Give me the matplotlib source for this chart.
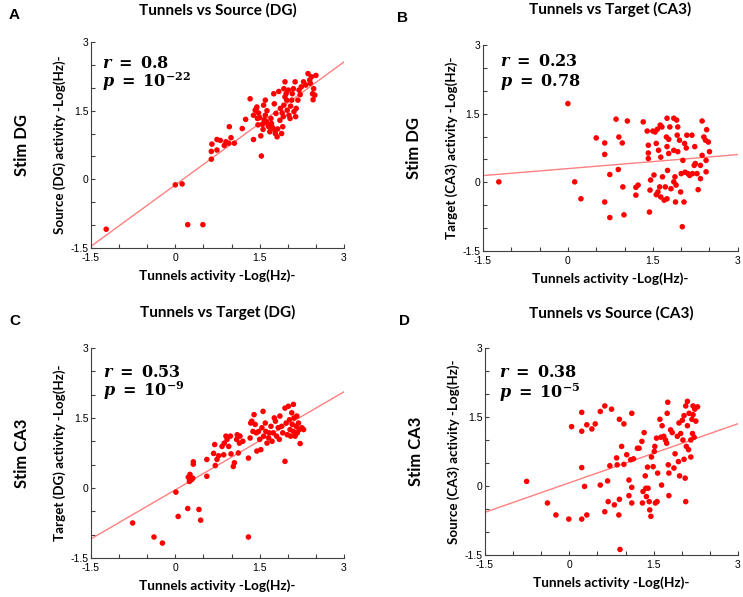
import numpy as np
import matplotlib
matplotlib.use("Agg")
import matplotlib.pyplot as plt
from matplotlib.ticker import MultipleLocator

plt.rcParams['font.family'] = ['Lato', 'DejaVu Sans']
plt.rcParams['mathtext.fontset'] = 'dejavuserif'

# ---- data ----
# A: Tunnels vs Source (DG), stim DG
a_x = [-1.23, 0.0, 0.12, 0.22, 0.49, 0.64, 0.64, 0.65, 0.74, 0.74, 0.87, 0.95, 0.96, 0.99,
       1.05, 1.19, 1.25, 1.33, 1.39, 1.42, 1.45, 1.46, 1.47, 1.53, 1.52, 1.56, 1.57, 1.60,
       1.60, 1.62, 1.66, 1.68, 1.70, 1.73, 1.75, 1.77, 1.78, 1.79, 1.81, 1.86, 1.87, 1.89,
       1.91, 1.92, 1.93, 1.93, 1.95, 1.97, 1.98, 1.99, 2.01, 2.02, 2.04, 2.07, 2.08, 2.10,
       2.11, 2.13, 2.14, 2.15, 2.18, 2.20, 2.24, 2.28, 2.32, 2.36, 2.39, 2.44, 2.45, 2.46,
       2.50, 2.42, 2.48, 1.39, 1.44, 1.50, 1.55, 1.63, 1.71, 1.84, 1.90, 2.05, 1.58, 1.76,
       0.80, 0.90, 1.65, 1.95, 2.22, 2.40, 1.48, 1.82]
a_y = [-1.09, -0.12, -0.10, -0.99, -0.99, 0.44, 0.61, 0.77, 0.64, 0.87, 0.74, 0.79, 1.15, 0.91,
       0.79, 1.11, 1.31, 1.76, 0.87, 1.51, 1.58, 1.33, 1.19, 0.51, 0.95, 1.09, 1.62, 1.73,
       1.40, 1.26, 1.15, 1.04, 1.33, 1.13, 1.87, 1.08, 1.00, 1.44, 0.93, 1.29, 1.55, 1.00,
       1.15, 1.37, 1.62, 1.98, 2.13, 1.87, 1.73, 1.51, 1.95, 1.40, 1.33, 1.73, 1.87, 1.98,
       1.48, 2.13, 1.37, 1.55, 1.73, 1.95, 2.02, 2.13, 2.06, 2.31, 2.17, 1.87, 1.74, 1.98,
       2.27, 2.24, 1.84, 1.40, 1.55, 1.35, 1.20, 1.50, 1.22, 1.92, 1.45, 1.60, 1.30, 1.65,
       0.85, 0.82, 1.18, 1.80, 1.85, 2.10, 1.45, 1.10]

# B: Tunnels vs Target (CA3), stim DG
b_x = [-1.22, 0.0, 0.12, 0.23, 0.50, 0.65, 0.65, 0.65, 0.74, 0.74, 0.85, 0.89, 0.90, 0.96,
       0.97, 0.99, 1.05, 1.20, 1.20, 1.24, 1.33, 1.40, 1.42, 1.42, 1.42, 1.44, 1.45, 1.46,
       1.50, 1.52, 1.54, 1.56, 1.56, 1.58, 1.59, 1.60, 1.62, 1.63, 1.64, 1.64, 1.66, 1.67,
       1.70, 1.72, 1.74, 1.75, 1.75, 1.75, 1.76, 1.78, 1.78, 1.80, 1.82, 1.87, 1.87, 1.87,
       1.89, 1.90, 1.91, 1.92, 1.93, 1.94, 1.94, 1.97, 1.99, 2.00, 2.02, 2.03, 2.05, 2.06,
       2.07, 2.09, 2.10, 2.12, 2.15, 2.19, 2.20, 2.23, 2.24, 2.25, 2.30, 2.34, 2.37, 2.37,
       2.40, 2.43, 2.44, 2.45, 2.44, 2.48, 2.50, 2.28, 2.34]
b_y = [0.01, 1.72, 0.01, -0.36, 0.97, 0.86, 0.61, -0.43, 0.17, -0.77, 1.38, 0.28, 0.99, 0.86,
       -0.10, -0.71, 1.34, -0.11, -0.28, -0.06, 1.32, 1.12, 0.81, 0.64, 0.52, -0.65, -0.17, 0.05,
       1.12, 0.16, 1.10, 0.85, -0.27, 1.16, -0.21, 0.70, -0.10, 1.25, -0.32, 0.55, 1.21, 0.12,
       -0.39, -0.10, 0.99, 0.78, 1.40, -0.36, 0.26, 0.94, 0.63, 1.21, -0.14, 1.40, 0.70, 0.01,
       0.12, -0.43, -0.06, 1.36, 1.03, 0.67, 1.21, 0.92, -0.21, 0.19, -0.97, 0.48, -0.43, 0.85,
       0.22, 0.75, 1.03, 0.19, 0.15, 1.03, 0.19, 0.37, 0.78, 0.41, -0.16, 0.37, 1.34, 0.59,
       0.99, 0.92, 0.48, 1.15, 0.23, 0.88, 0.67, 0.19, 0.08]

# C: Tunnels vs Target (DG), stim CA3
c_x = [-0.76, -0.38, -0.23, 0.01, 0.05, 0.22, 0.23, 0.25, 0.26, 0.29, 0.31, 0.42, 0.45, 0.32,
       0.32, 0.56, 0.56, 0.68, 0.70, 0.71, 0.74, 0.77, 0.83, 0.86, 0.87, 0.90, 0.92, 0.95,
       0.98, 0.99, 1.03, 1.05, 1.09, 1.10, 1.12, 1.14, 1.15, 1.20, 1.30, 1.33, 1.34, 1.36,
       1.38, 1.40, 1.42, 1.44, 1.45, 1.48, 1.50, 1.52, 1.54, 1.56, 1.57, 1.60, 1.61, 1.63,
       1.66, 1.67, 1.70, 1.72, 1.74, 1.76, 1.78, 1.80, 1.83, 1.85, 1.86, 1.89, 1.91, 1.95,
       1.95, 1.97, 1.99, 2.01, 2.03, 2.04, 2.05, 2.07, 2.08, 2.10, 2.10, 2.11, 2.13, 2.15,
       2.16, 2.17, 2.19, 2.20, 2.22, 2.25, 2.28, 1.30]
c_y = [-0.75, -1.05, -1.18, -0.09, -0.61, -0.44, 0.23, 0.14, 0.29, 0.18, 0.21, -0.46, -0.69, 0.56,
       0.51, 0.25, 0.61, 0.74, 0.93, 0.48, 0.61, 0.69, 0.89, 0.71, 0.96, 1.11, 1.04, 0.89,
       1.11, 0.73, 0.46, 0.54, 1.04, 1.14, 0.75, 0.96, 1.11, 1.00, 0.64, 1.07, 1.39, 1.43,
       1.21, 1.57, 1.36, 1.18, 0.79, 1.21, 1.04, 0.82, 1.29, 1.64, 1.11, 1.39, 1.21, 0.96,
       1.07, 1.18, 1.32, 1.00, 1.18, 1.50, 1.43, 1.11, 1.29, 1.04, 1.54, 1.32, 1.18, 0.57,
       1.71, 1.39, 1.14, 1.75, 1.46, 1.25, 1.11, 1.61, 1.36, 1.79, 1.21, 1.50, 1.11, 1.32,
       1.54, 1.18, 1.39, 1.25, 0.95, 1.29, 1.25, -1.05]

# D: Tunnels vs Source (CA3), stim CA3
d_x = [-0.76, -0.39, -0.24, -0.01, 0.04, 0.22, 0.22, 0.22, 0.22, 0.27, 0.31, 0.31, 0.40, 0.46,
       0.55, 0.55, 0.63, 0.63, 0.68, 0.69, 0.72, 0.75, 0.80, 0.84, 0.85, 0.88, 0.89, 0.89,
       0.90, 0.93, 0.97, 0.97, 1.02, 1.06, 1.06, 1.09, 1.11, 1.11, 1.11, 1.14, 1.21, 1.24,
       1.29, 1.30, 1.31, 1.33, 1.35, 1.36, 1.37, 1.39, 1.40, 1.42, 1.43, 1.45, 1.46, 1.49,
       1.51, 1.52, 1.53, 1.55, 1.56, 1.57, 1.61, 1.63, 1.64, 1.65, 1.68, 1.71, 1.73, 1.74,
       1.75, 1.76, 1.77, 1.77, 1.80, 1.83, 1.86, 1.88, 1.92, 1.94, 1.95, 1.96, 1.98, 2.01,
       2.02, 2.04, 2.04, 2.06, 2.07, 2.07, 2.08, 2.10, 2.10, 2.12, 2.13, 2.16, 2.18, 2.19,
       2.20, 2.20, 2.22, 2.23, 2.25, 2.28, 2.16]
d_y = [0.10, -0.37, -0.63, -0.72, 1.29, 1.60, 1.19, 0.40, -0.72, -0.01, 1.33, -0.63, 1.24, 1.35,
       1.62, 0.02, 1.74, -0.56, 0.11, -0.34, 0.44, 1.67, -0.41, 0.61, 0.46, -0.63, -0.29, 1.45,
       -1.38, 0.86, 1.35, 0.47, 0.68, 0.13, -0.21, 0.57, 1.58, -0.03, -0.37, 0.59, 0.82, 0.82,
       0.97, -0.37, -0.12, 1.16, 0.22, -0.05, -0.23, 0.41, -0.05, -0.34, -0.52, -0.66, 0.63, 0.42,
       0.75, 0.86, -0.37, 1.04, -0.34, 0.28, 1.45, 1.06, 0.02, 1.31, 1.08, 1.00, 0.93, 1.58,
       1.82, 0.46, 0.28, -0.21, 1.22, 1.16, 0.39, 0.70, 1.08, 0.53, 1.37, 0.22, 1.14, 1.43,
       1.00, 0.58, 1.53, 0.17, -0.34, 1.74, 0.86, 1.84, 1.31, 0.79, 1.58, 1.00, 1.45, 1.14,
       1.55, 1.74, 1.06, 1.67, 1.41, 1.72, 0.63]

# regression line (slope, intercept) as drawn in the picture
fits = [(0.895, -0.12), (0.102, 0.30), (0.70, -0.04), (0.428, 0.07)]

titles = ['Tunnels vs Source (DG)', 'Tunnels vs Target (CA3)',
          'Tunnels vs Target (DG)', 'Tunnels vs Source (CA3)']
ylabels = ['Source (DG) activity -Log(Hz)-', 'Target (CA3) activity -Log(Hz)-',
           'Target (DG) activity -Log(Hz)-', 'Source (CA3) activity -Log(Hz)-']
stims = ['Stim DG', 'Stim DG', 'Stim CA3', 'Stim CA3']
letters = ['A', 'B', 'C', 'D']
r_txt = [r'$\boldsymbol{r}\ \mathbf{=\ 0.8}$', r'$\boldsymbol{r}\ \mathbf{=\ 0.23}$',
         r'$\boldsymbol{r}\ \mathbf{=\ 0.53}$', r'$\boldsymbol{r}\ \mathbf{=\ 0.38}$']
p_txt = [r'$\boldsymbol{p}\ \mathbf{=\ 10^{-22}}$', r'$\boldsymbol{p}\ \mathbf{=\ 0.78}$',
         r'$\boldsymbol{p}\ \mathbf{=\ 10^{-9}}$', r'$\boldsymbol{p}\ \mathbf{=\ 10^{-5}}$']
xs = [a_x, b_x, c_x, d_x]
ys = [a_y, b_y, c_y, d_y]

# ---- layout ----
fig = plt.figure(figsize=(7.43, 5.97), dpi=100)
boxes = [[0.1225, 0.5846, 0.3405, 0.345],
         [0.650, 0.5796, 0.343, 0.345],
         [0.1225, 0.0653, 0.3405, 0.352],
         [0.6528, 0.0704, 0.3405, 0.3467]]
r_pos = [(0.043, 0.90, 0.81), (0.067, 0.92, 0.82), (0.047, 0.886, 0.795), (0.055, 0.884, 0.785)]
title_pad = [20, 22, 22, 22]

for i in range(4):
    ax = fig.add_axes(boxes[i])
    ax.scatter(xs[i], ys[i], s=16, color='#ff0000', edgecolors='none', zorder=3)
    lx = np.array([-1.5, 3.0])
    ax.plot(lx, fits[i][0] * lx + fits[i][1], color='#ff8080', lw=1, zorder=2)

    ax.set_xlim(-1.5, 3)
    ax.set_ylim(-1.5, 3)
    ax.set_xticks([-1.5, 0, 1.5, 3])
    ax.set_yticks([-1.5, 0, 1.5, 3])
    ax.set_xticklabels(['-1.5', '0', '1.5', '3'])
    ax.set_yticklabels(['-1.5', '0', '1.5', '3'])
    ax.xaxis.set_minor_locator(MultipleLocator(0.5))
    ax.yaxis.set_minor_locator(MultipleLocator(0.5))
    ax.tick_params(which='both', direction='in', length=3, width=0.8, color='#404040')
    ax.tick_params(axis='x', labelsize=7.5, pad=3.5)
    ax.tick_params(axis='y', labelsize=7.5, pad=2)
    for lab in ax.get_xticklabels() + ax.get_yticklabels():
        lab.set_family(['Liberation Sans', 'DejaVu Sans'])
    for s in ['top', 'right']:
        ax.spines[s].set_visible(False)
    for s in ['left', 'bottom']:
        ax.spines[s].set_linewidth(0.8)
        ax.spines[s].set_color('#404040')

    ax.set_title(titles[i], fontsize=11, fontweight='bold', pad=title_pad[i])
    ax.set_xlabel('Tunnels activity -Log(Hz)-', fontsize=9.8, fontweight='bold', labelpad=5)
    ax.set_ylabel(ylabels[i], fontsize=9.6, fontweight='bold', labelpad=3)

    px, py_r, py_p = r_pos[i]
    ax.text(px, py_r, r_txt[i], transform=ax.transAxes, fontsize=11.5, va='center')
    ax.text(px, py_p, p_txt[i], transform=ax.transAxes, fontsize=11.5, va='center')

    bx = boxes[i]
    fig.text(bx[0] - 0.093, bx[1] + bx[3] * 0.5, stims[i], rotation=90, fontsize=12,
             fontweight='bold', va='center', ha='center')
    fig.text(bx[0] - 0.103 if i % 2 == 0 else bx[0] - 0.108, bx[1] + bx[3] + 0.045,
             letters[i], fontsize=11, fontweight='bold', ha='center', va='center',
             family=['Liberation Sans', 'DejaVu Sans'])

fig.savefig('out.png', dpi=100)
